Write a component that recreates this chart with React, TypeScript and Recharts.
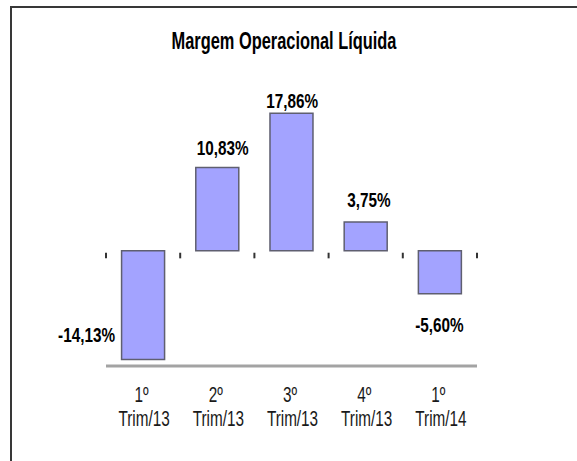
import React from 'react';
import { BarChart, Bar, XAxis, YAxis, LabelList, ReferenceLine } from 'recharts';

const QUARTERS = ['1º', '2º', '3º', '4º', '1º'];
const PERIODS = ['Trim/13', 'Trim/13', 'Trim/13', 'Trim/13', 'Trim/14'];
const MARGINS = [-14.13, 10.83, 17.86, 3.75, -5.6];
const TITLE = 'Margem Operacional Líquida';

const CATEGORIES = QUARTERS.map((q, i) => `${q} ${PERIODS[i]}`);
const data = CATEGORIES.map((c, i) => ({ name: c, value: MARGINS[i] }));

const FONT = '"Liberation Sans", Arial, sans-serif';

// label placement styles (relative to each bar)
const LABEL_STYLE = [
  { anchor: 'end', ref: 'left-bottom', dx: -6.5, dy: -17 },
  { anchor: 'middle', ref: 'top', dx: 5.5, dy: -12 },
  { anchor: 'middle', ref: 'top', dx: 0.7, dy: -5 },
  { anchor: 'middle', ref: 'top', dx: 3.2, dy: -15 },
  { anchor: 'middle', ref: 'bottom', dx: -0.5, dy: 38.5 },
];

function ScaledText(props: any) {
  const { x, y, sx, sy, anchor, size, weight, fill, children } = props;
  return (
    <g transform={`translate(${x},${y}) scale(${sx},${sy})`}>
      <text x={0} y={0} textAnchor={anchor} fontSize={size} fontWeight={weight} fontFamily={FONT} fill={fill}>
        {children}
      </text>
    </g>
  );
}

function ValueLabel(props: any) {
  const { x, y, width, height, value, index } = props;
  const st = LABEL_STYLE[index];
  const top = Math.min(y, y + height);
  const bottom = Math.max(y, y + height);
  let px = x + width / 2 + st.dx;
  let py = top + st.dy;
  if (st.ref === 'left-bottom') {
    px = x + st.dx;
    py = bottom + st.dy;
  } else if (st.ref === 'bottom') {
    py = bottom + st.dy;
  }
  const txt = Number(value).toFixed(2).replace('.', ',') + '%';
  return (
    <ScaledText x={px} y={py} sx={0.85} sy={1.16} anchor={st.anchor} size={18} weight="bold" fill="#000">
      {txt}
    </ScaledText>
  );
}

function CategoryTick(props: any) {
  const { x, y, payload } = props;
  const parts = String(payload.value).split(' ');
  return (
    <g>
      <ScaledText x={x - 1.5} y={y + 36} sx={0.85} sy={1.2} anchor="middle" size={18} weight="normal" fill="#1a1a1a">
        {parts[0]}
      </ScaledText>
      <ScaledText x={x + 1} y={y + 60} sx={0.85} sy={1.2} anchor="middle" size={18} weight="normal" fill="#1a1a1a">
        {parts[1]}
      </ScaledText>
    </g>
  );
}

export default function App() {
  return (
    <div style={{ position: 'fixed', left: 0, top: 0, width: 577, height: 461, overflow: 'hidden', background: '#fff' }}>
      <div
        style={{
          position: 'absolute',
          left: 10,
          top: 6,
          width: 640,
          height: 520,
          border: '2px solid #383838',
          boxSizing: 'border-box',
        }}
      />
      <svg width={577} height={80} style={{ position: 'absolute', left: 0, top: 0 }}>
        <ScaledText x={284} y={49.3} sx={0.82} sy={1.17} anchor="middle" size={20} weight="bold" fill="#000">
          {TITLE}
        </ScaledText>
      </svg>
      <div style={{ position: 'absolute', left: 0, top: 0 }}>
        <BarChart
          width={577}
          height={461}
          data={data}
          margin={{ top: 96.9, right: 100, left: 106, bottom: 34.9 }}
          barCategoryGap="21%"
        >
          <YAxis hide domain={[-15, 20]} type="number" allowDataOverflow />
          <XAxis
            dataKey="name"
            height={60}
            axisLine={{ stroke: '#a3a3a3', strokeWidth: 3 }}
            tickLine={false}
            tickSize={0}
            tickMargin={0}
            interval={0}
            tick={<CategoryTick />}
          />
          {CATEGORIES.map((c, i) => (
            <ReferenceLine
              key={'t' + i}
              segment={[{ x: c, y: -0.26 }, { x: c, y: -0.99 }]}
              position="start"
              stroke="#333"
              strokeWidth={2}
              ifOverflow="visible"
            />
          ))}
          <ReferenceLine
            segment={[{ x: CATEGORIES[CATEGORIES.length - 1], y: -0.26 }, { x: CATEGORIES[CATEGORIES.length - 1], y: -0.99 }]}
            position="end"
            stroke="#333"
            strokeWidth={2}
            ifOverflow="visible"
          />
          <Bar dataKey="value" fill="#a3a3ff" stroke="#5f5f70" strokeWidth={1.5} isAnimationActive={false}>
            <LabelList dataKey="value" content={<ValueLabel />} />
          </Bar>
        </BarChart>
      </div>
    </div>
  );
}
